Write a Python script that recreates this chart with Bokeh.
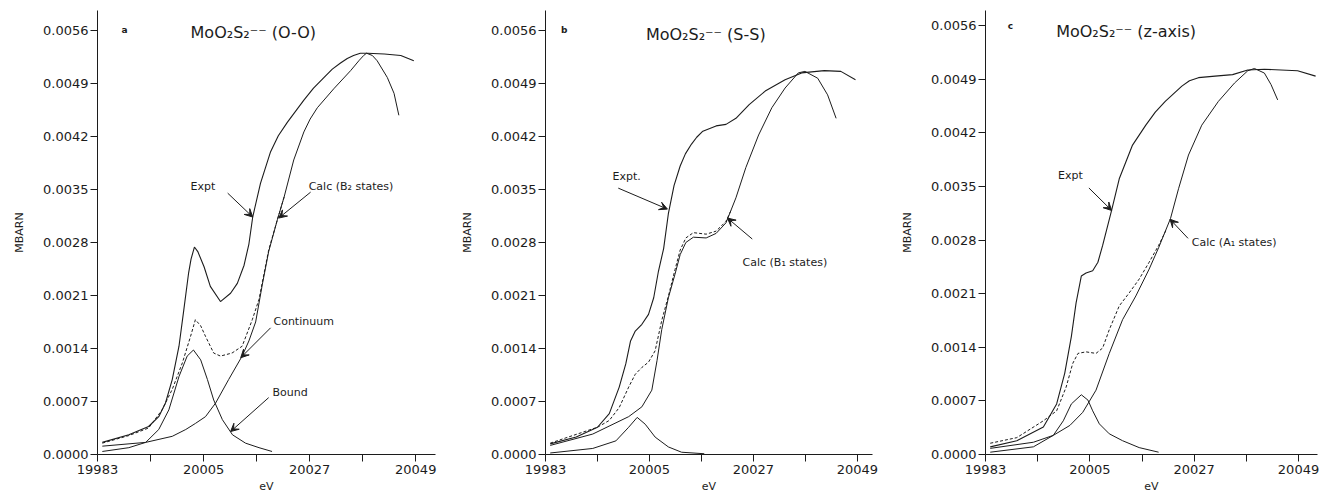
from bokeh.plotting import figure
from bokeh.layouts import row
from bokeh.models import Range1d, FixedTicker, NumeralTickFormatter, Label, Arrow, VeeHead
from bokeh.embed import file_html
from bokeh.resources import INLINE

# ---------------- axes ----------------
Y_TICKS = [0.0, 0.0007, 0.0014, 0.0021, 0.0028, 0.0035, 0.0042, 0.0049, 0.0056]
X_TICKS = [19983, 20005, 20027, 20049]
X_MINOR = [19994, 20016, 20038]

# ---------------- panel a : MoO2S2-- (O-O) ----------------
A_EXPT_EV = [19984.0, 19989.5, 19993.6, 19995.7, 19997.1, 19998.5, 19999.9, 20000.9, 20001.9, 20002.4,
             20003.1, 20003.8, 20005.1, 20006.4, 20008.5, 20010.6, 20012.0, 20013.4, 20014.4, 20015.2,
             20016.8, 20018.9, 20020.5, 20022.4, 20025.8, 20027.8, 20030.0, 20031.7, 20033.4, 20034.8,
             20036.1, 20037.5, 20039.0, 20042.5, 20045.9, 20048.6]
A_EXPT = [0.00016, 0.00026, 0.00037, 0.00050, 0.00068, 0.00099, 0.00143, 0.00191, 0.00240, 0.00258,
          0.00274, 0.00268, 0.00248, 0.00222, 0.00202, 0.00213, 0.00226, 0.00250, 0.00278, 0.00314,
          0.00358, 0.00400, 0.00421, 0.00439, 0.00468, 0.00484, 0.00498, 0.00509, 0.00517, 0.00523,
          0.00527, 0.00530, 0.00530, 0.00529, 0.00527, 0.00520]

A_CALC_EV = [19984.0, 19989.5, 19993.6, 19996.4, 19998.5, 20000.6, 20002.3, 20003.3, 20004.4, 20005.4,
             20007.1, 20008.5, 20010.9, 20013.0, 20015.1, 20016.5, 20017.2, 20018.5, 20020.3, 20021.7]
A_CALC = [0.00015, 0.00025, 0.00035, 0.00059, 0.00086, 0.00121, 0.00156, 0.00178, 0.00170, 0.00156,
          0.00134, 0.00130, 0.00134, 0.00143, 0.00178, 0.00205, 0.00228, 0.00270, 0.00310, 0.00340]

A_CONT_EV = [19984.0, 19993.0, 19998.5, 20001.3, 20003.3, 20005.4, 20007.5, 20010.2, 20013.0, 20014.4,
             20015.8, 20017.2, 20018.5, 20020.3, 20021.7, 20023.7, 20025.8, 20027.1, 20028.6, 20032.0,
             20035.5, 20037.2, 20038.2, 20038.8, 20040.0, 20041.0, 20043.1, 20044.5, 20045.5]
A_CONT = [0.00011, 0.00016, 0.00024, 0.00033, 0.00041, 0.00050, 0.00068, 0.00099, 0.00130, 0.00150,
          0.00175, 0.00225, 0.00268, 0.00310, 0.00340, 0.00389, 0.00426, 0.00443, 0.00458, 0.00483,
          0.00507, 0.00520, 0.00527, 0.00530, 0.00527, 0.00520, 0.00498, 0.00477, 0.00448]

A_BOUND_EV = [19984.0, 19989.5, 19993.0, 19995.7, 19997.8, 19999.9, 20001.6, 20002.9, 20004.4, 20005.8,
              20007.1, 20008.9, 20011.0, 20013.7, 20016.5, 20019.2]
A_BOUND = [0.00004, 0.00009, 0.00016, 0.00033, 0.00059, 0.00103, 0.00130, 0.00138, 0.00125, 0.00099,
           0.00072, 0.00046, 0.00026, 0.00015, 0.00009, 0.00004]

# ---------------- panel b : MoO2S2-- (S-S) ----------------
B_EXPT_EV = [19984.0, 19989.5, 19994.0, 19996.5, 19998.6, 20000.0, 20001.0, 20002.0, 20003.4, 20004.8,
             20005.9, 20006.9, 20008.0, 20009.0, 20010.2, 20011.5, 20012.6, 20013.9, 20015.0, 20016.3,
             20019.1, 20021.2, 20023.3, 20026.1, 20029.5, 20033.7, 20037.2, 20042.0, 20045.5, 20048.6]
B_EXPT = [0.00014, 0.00023, 0.00036, 0.00054, 0.00089, 0.00120, 0.00150, 0.00163, 0.00172, 0.00185,
          0.00207, 0.00242, 0.00272, 0.00318, 0.00355, 0.00381, 0.00397, 0.00410, 0.00419, 0.00427,
          0.00434, 0.00436, 0.00444, 0.00462, 0.00480, 0.00495, 0.00504, 0.00507, 0.00506, 0.00495]

B_CALC_EV = [19984.0, 19994.0, 19996.5, 19998.6, 20000.6, 20002.0, 20003.4, 20004.8, 20006.2, 20007.6,
             20009.0, 20010.4, 20011.5, 20012.7, 20014.3, 20017.0, 20019.1, 20021.2, 20022.3]
B_CALC = [0.00015, 0.00036, 0.00045, 0.00062, 0.00089, 0.00106, 0.00115, 0.00122, 0.00137, 0.00177,
          0.00209, 0.00244, 0.00270, 0.00286, 0.00293, 0.00291, 0.00295, 0.00308, 0.00323]

B_CONT_EV = [19984.0, 19993.0, 20000.6, 20003.4, 20005.5, 20006.6, 20007.6, 20009.0, 20010.4, 20011.5,
             20012.7, 20014.3, 20017.0, 20019.1, 20021.2, 20023.3, 20025.4, 20028.1, 20030.9, 20033.7,
             20036.5, 20037.9, 20040.6, 20042.7, 20044.5]
B_CONT = [0.00012, 0.00027, 0.00050, 0.00063, 0.00085, 0.00124, 0.00165, 0.00207, 0.00238, 0.00264,
          0.00280, 0.00287, 0.00286, 0.00292, 0.00306, 0.00339, 0.00379, 0.00422, 0.00458, 0.00484,
          0.00504, 0.00506, 0.00497, 0.00475, 0.00444]

B_BOUND_EV = [19984.0, 19993.0, 19997.9, 20000.6, 20002.4, 20004.1, 20006.2, 20009.0, 20011.8, 20016.6]
B_BOUND = [0.00002, 0.00008, 0.00018, 0.00036, 0.00049, 0.00040, 0.00023, 0.00010, 0.00003, 0.00001]

# ---------------- panel c : MoO2S2-- (z-axis) ----------------
C_EXPT_EV = [19984.0, 19989.6, 19995.2, 19998.0, 19999.7, 20001.1, 20002.1, 20003.2, 20004.2, 20005.6,
             20006.7, 20007.7, 20009.6, 20011.2, 20014.0, 20016.8, 20018.8, 20020.9, 20024.4, 20026.0,
             20027.9, 20031.4, 20035.1, 20038.3, 20041.8, 20048.8, 20052.6]
C_EXPT = [0.00010, 0.00018, 0.00036, 0.00066, 0.00106, 0.00154, 0.00198, 0.00233, 0.00237, 0.00240,
          0.00251, 0.00273, 0.00319, 0.00360, 0.00404, 0.00430, 0.00447, 0.00461, 0.00481, 0.00488,
          0.00492, 0.00494, 0.00496, 0.00502, 0.00503, 0.00501, 0.00494]

C_CALC_EV = [19984.0, 19989.6, 19995.2, 19998.0, 20000.0, 20001.4, 20002.5, 20004.2, 20006.3, 20007.7,
             20009.1, 20011.2, 20013.3, 20015.4, 20017.5, 20019.5, 20021.0]
C_CALC = [0.000147, 0.00022, 0.00044, 0.00057, 0.00088, 0.00119, 0.00132, 0.00134, 0.00132, 0.00139,
          0.00163, 0.00194, 0.00211, 0.00229, 0.00251, 0.00273, 0.00292]

C_CONT_EV = [19984.0, 19993.1, 19997.3, 20000.8, 20003.5, 20006.3, 20009.1, 20011.9, 20014.7, 20017.5,
             20019.5, 20022.0, 20023.7, 20025.8, 20028.6, 20032.1, 20035.5, 20038.3, 20039.7, 20041.8,
             20043.2, 20044.6]
C_CONT = [0.00008, 0.00016, 0.00025, 0.00038, 0.00055, 0.00084, 0.00132, 0.00176, 0.00207, 0.00242,
          0.00270, 0.00308, 0.00347, 0.00391, 0.00430, 0.00461, 0.00485, 0.00501, 0.00504, 0.00498,
          0.00483, 0.00463]

C_BOUND_EV = [19984.0, 19993.1, 19997.3, 19999.4, 20001.1, 20003.2, 20004.6, 20005.6, 20007.0, 20009.1,
              20011.9, 20015.4, 20019.5]
C_BOUND = [0.00003, 0.00010, 0.00025, 0.00044, 0.00066, 0.00078, 0.00071, 0.00057, 0.00040, 0.00027,
           0.00018, 0.00009, 0.00003]

FONT = "DejaVu Sans"
INK = "#1c1c1c"
HEIGHT = 500


def panel(width, x_end, y_end, bl, br, bb):
    p = figure(width=width, height=HEIGHT, output_backend="svg", toolbar_location=None,
               x_range=Range1d(19983, x_end), y_range=Range1d(0, y_end),
               min_border_left=bl, min_border_right=br, min_border_top=10, min_border_bottom=bb)
    p.outline_line_color = None
    p.grid.visible = False
    p.background_fill_color = "white"
    p.border_fill_color = "white"
    xa = p.xaxis[0]
    ya = p.yaxis[0]
    xa.ticker = FixedTicker(ticks=X_TICKS, minor_ticks=X_MINOR)
    xa.formatter = NumeralTickFormatter(format="0")
    ya.ticker = FixedTicker(ticks=Y_TICKS)
    ya.formatter = NumeralTickFormatter(format="0.0000")
    for ax in (xa, ya):
        ax.axis_line_color = INK
        ax.axis_line_width = 1
        ax.major_tick_line_color = INK
        ax.major_tick_in = 0
        ax.major_tick_out = 7
        ax.major_label_text_font = FONT
        ax.major_label_text_font_size = "13px"
        ax.major_label_text_color = INK
        ax.axis_label_text_font = FONT
        ax.axis_label_text_font_size = "11px"
        ax.axis_label_text_font_style = "normal"
        ax.axis_label_text_color = INK
    xa.major_label_standoff = 3
    ya.major_label_standoff = 2
    xa.minor_tick_line_color = INK
    xa.minor_tick_in = 0
    xa.minor_tick_out = 7
    ya.minor_tick_line_color = None
    xa.axis_label = "eV"
    xa.axis_label_standoff = 3
    ya.axis_label = "MBARN"
    ya.axis_label_standoff = 14
    return p


def curves(p, expt_ev, expt, calc_ev, calc, cont_ev, cont, bound_ev, bound):
    p.line(cont_ev, cont, line_color=INK, line_width=1)
    p.line(bound_ev, bound, line_color=INK, line_width=1)
    p.line(expt_ev, expt, line_color=INK, line_width=1.1)
    p.line(calc_ev, calc, line_color=INK, line_width=1, line_dash="3 2")


def label(p, x, y, text, size="11px", style="normal"):
    p.add_layout(Label(x=x, y=y, text=text, text_font=FONT, text_font_size=size,
                       text_font_style=style, text_color=INK,
                       text_baseline="middle", text_align="left"))


def arrow(p, x0, y0, x1, y1):
    p.add_layout(Arrow(x_start=x0, y_start=y0, x_end=x1, y_end=y1, line_color=INK, line_width=1,
                       end=VeeHead(size=8, fill_color=INK, line_color=INK)))


# panel a  (page x 0..458, frame 97..435)
pa = panel(458, 20053.1, 0.005864, 97, 23, 46)
curves(pa, A_EXPT_EV, A_EXPT, A_CALC_EV, A_CALC, A_CONT_EV, A_CONT, A_BOUND_EV, A_BOUND)
label(pa, 19988.0, 0.00561, "a", "9px", "bold")
label(pa, 20002.3, 0.00557, "MoO\u2082S\u2082\u207b\u207b (O-O)", "16px")
label(pa, 20002.3, 0.003544, "Expt")
arrow(pa, 20010.0, 0.003452, 20015.2, 0.003136)
label(pa, 20026.8, 0.003544, "Calc (B\u2082 states)")
arrow(pa, 20027.2, 0.003465, 20020.6, 0.003123)
label(pa, 20019.5, 0.001752, "Continuum")
arrow(pa, 20018.9, 0.001673, 20012.7, 0.001278)
label(pa, 20019.3, 0.000817, "Bound")
arrow(pa, 20018.5, 0.000751, 20010.6, 0.000303)

# panel b  (page x 458..898, frame 540..872)
pb = panel(440, 20052.2, 0.005864, 82, 26, 46)
curves(pb, B_EXPT_EV, B_EXPT, B_CALC_EV, B_CALC, B_CONT_EV, B_CONT, B_BOUND_EV, B_BOUND)
label(pb, 19986.3, 0.00560, "b", "9px", "bold")
label(pb, 20004.25, 0.005547, "MoO\u2082S\u2082\u207b\u207b (S-S)", "16px")
label(pb, 19997.2, 0.003676, "Expt.")
arrow(pb, 19998.4, 0.003518, 20008.8, 0.003241)
label(pb, 20024.7, 0.00253, "Calc (B\u2081 states)")
arrow(pb, 20026.75, 0.002846, 20021.5, 0.003123)

# panel c  (page x 898..1320, frame 982..1317)
pc = panel(422, 20053.0, 0.005797, 84, 3, 46)
curves(pc, C_EXPT_EV, C_EXPT, C_CALC_EV, C_CALC, C_CONT_EV, C_CONT, C_BOUND_EV, C_BOUND)
label(pc, 19987.7, 0.00560, "c", "9px", "bold")
label(pc, 19997.9, 0.005521, "MoO\u2082S\u2082\u207b\u207b (z-axis)", "16px")
label(pc, 19998.3, 0.003638, "Expt")
arrow(pc, 20004.8, 0.00348, 20009.6, 0.003186)
label(pc, 20026.5, 0.002769, "Calc (A\u2081 states)")
arrow(pc, 20025.7, 0.002822, 20021.9, 0.003072)

layout = row(pa, pb, pc)
open("out.html", "w").write(file_html(layout, INLINE))
